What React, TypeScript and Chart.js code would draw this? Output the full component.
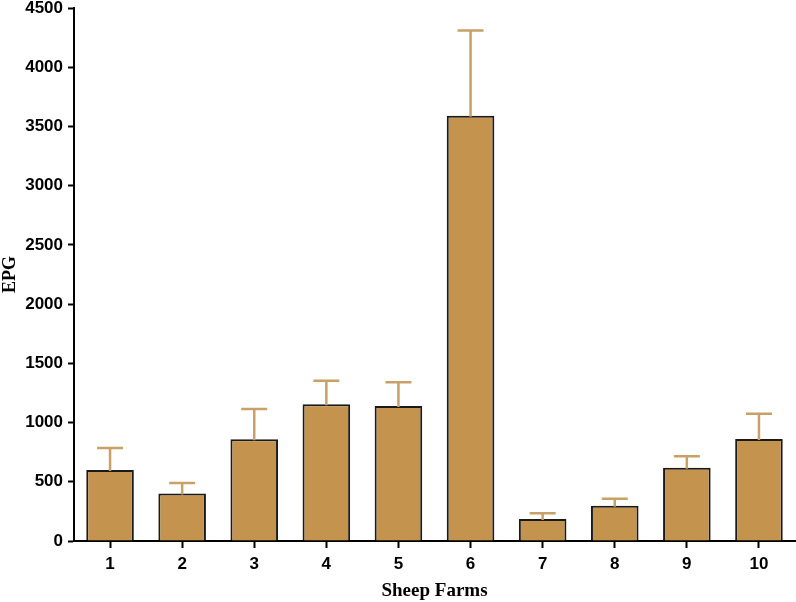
import React, { useEffect, useRef } from "react";
import { Chart, registerables } from "chart.js";

Chart.register(...registerables);

const farms = ["1", "2", "3", "4", "5", "6", "7", "8", "9", "10"];
const epgMean = [600, 400, 860, 1155, 1140, 3590, 185, 298, 618, 862];
const epgUpper = [785, 490, 1115, 1353, 1340, 4310, 234, 357, 715, 1075];
const yTicks = [0, 500, 1000, 1500, 2000, 2500, 3000, 3500, 4000, 4500];

const BAR_COLOR = "#C4944F";

const errorBarPlugin = {
  id: "errorBars",
  afterDatasetsDraw(chart: any) {
    const meta = chart.getDatasetMeta(0);
    const y = chart.scales.y;
    const ctx = chart.ctx;
    ctx.save();
    ctx.strokeStyle = "#C9A066";
    ctx.lineWidth = 2.5;
    meta.data.forEach((bar: any, i: number) => {
      const x = bar.x;
      const y0 = y.getPixelForValue(epgMean[i]) + 1;
      const y1 = y.getPixelForValue(epgUpper[i]);
      ctx.beginPath();
      ctx.moveTo(x, y0);
      ctx.lineTo(x, y1);
      ctx.moveTo(x - 13, y1);
      ctx.lineTo(x + 13, y1);
      ctx.stroke();
    });
    ctx.restore();
  },
};

export default function App() {
  const ref = useRef<HTMLCanvasElement | null>(null);
  useEffect(() => {
    if (!ref.current) return;
    const chart = new Chart(ref.current, {
      type: "bar",
      data: {
        labels: farms,
        datasets: [
          {
            data: epgMean,
            backgroundColor: BAR_COLOR,
            borderColor: "#1a1a1a",
            borderWidth: 2,
            borderSkipped: "bottom",
            barPercentage: 0.66,
            categoryPercentage: 1,
          },
        ],
      },
      options: {
        animation: false,
        responsive: false,
        maintainAspectRatio: false,
        layout: { padding: { top: 8, right: 1, left: 0, bottom: 0 } },
        plugins: { legend: { display: false }, tooltip: { enabled: false } },
        scales: {
          x: {
            offset: true,
            grid: {
              offset: false,
              drawOnChartArea: false,
              drawTicks: true,
              tickLength: 7,
              tickWidth: 2,
              color: "#000",
            },
            border: { display: true, color: "#000", width: 2 },
            ticks: {
              color: "#000",
              padding: 6,
              font: { family: "Liberation Sans", size: 17, weight: "bold" },
            },
            title: {
              display: true,
              text: "Sheep Farms",
              color: "#000",
              font: { family: "Liberation Serif", size: 19, weight: "bold" },
              padding: { top: 0, bottom: 0 },
            },
            afterFit: (s: any) => {
              s.height = 61;
              s.paddingLeft = 0;
              s.paddingRight = 0;
            },
          },
          y: {
            min: 0,
            max: 4500,
            afterBuildTicks: (s: any) => {
              s.ticks = yTicks.map((v) => ({ value: v }));
            },
            grid: {
              drawOnChartArea: false,
              drawTicks: true,
              tickLength: 6,
              tickWidth: 2,
              color: "#000",
            },
            border: { display: true, color: "#000", width: 2 },
            ticks: {
              color: "#000",
              padding: 5,
              callback: (v: any) => String(v),
              font: { family: "Liberation Sans", size: 17, weight: "bold" },
            },
            title: {
              display: true,
              text: "EPG",
              color: "#000",
              font: { family: "Liberation Serif", size: 18, weight: "bold" },
              padding: { top: 0, bottom: 0 },
            },
            afterFit: (s: any) => {
              s.width = 74;
              s.paddingTop = 0;
              s.paddingBottom = 0;
            },
          },
        },
      },
      plugins: [errorBarPlugin],
    });
    return () => chart.destroy();
  }, []);
  return (
    <div style={{ position: "fixed", left: 0, top: 0, width: 796, height: 602, background: "#fff" }}>
      <canvas ref={ref} width={796} height={602} style={{ display: "block" }} />
    </div>
  );
}
